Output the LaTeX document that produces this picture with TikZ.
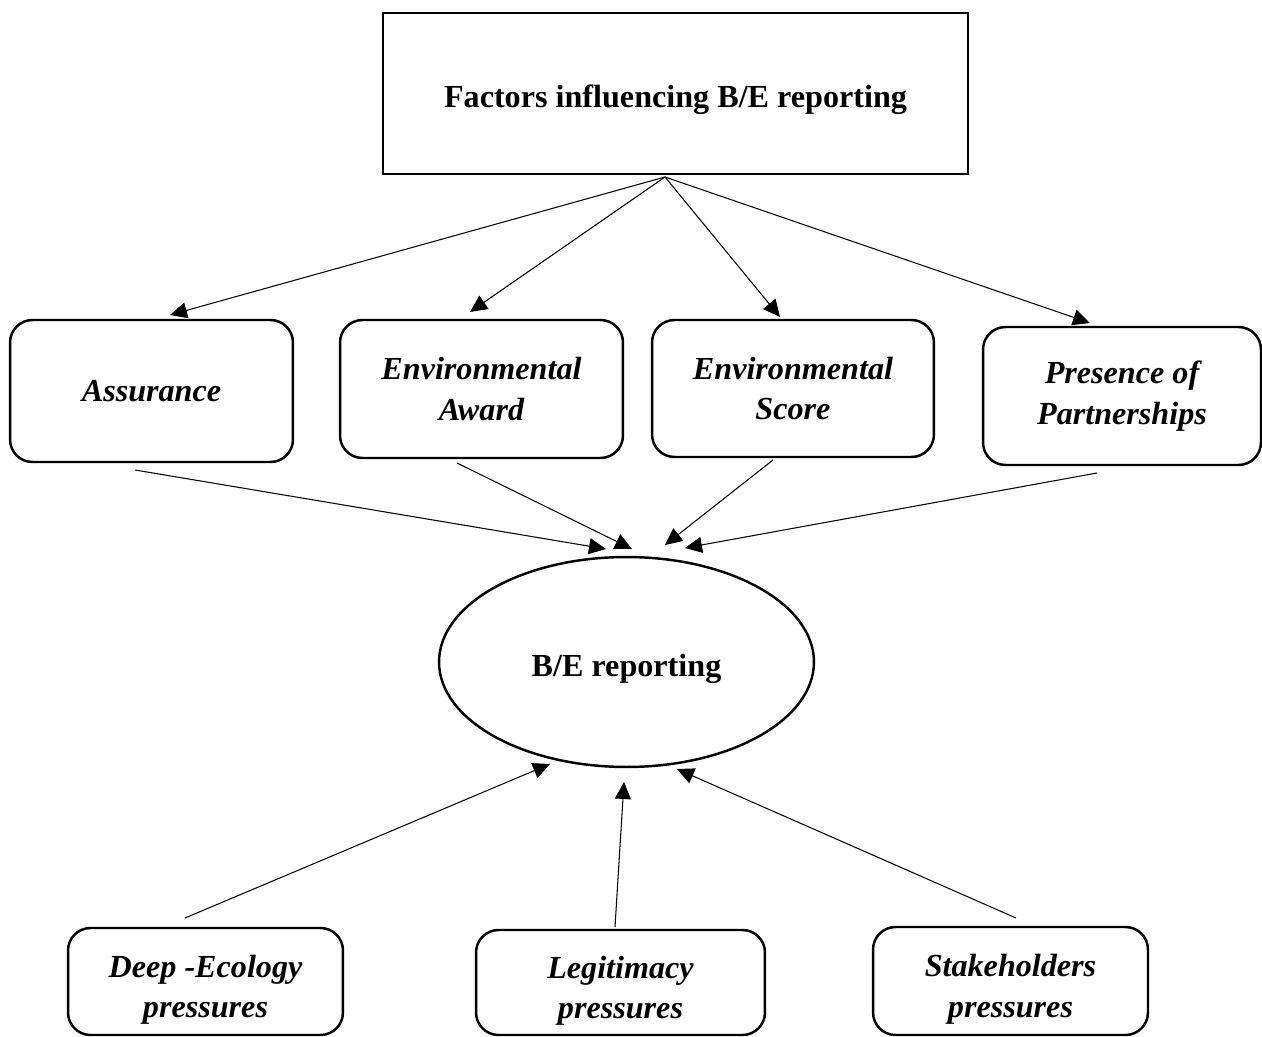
\documentclass[tikz,border=0pt]{standalone}
\usepackage{fontspec}
\setmainfont{Liberation Serif}
\usetikzlibrary{arrows.meta, shapes.geometric}
\begin{document}
\begin{tikzpicture}[x=0.02cm, y=-0.02cm, box/.style={draw, line width=1.4pt, rounded corners=0.45cm, align=center, inner sep=0pt, font=\fontsize{18.3}{23.3}\selectfont\bfseries\itshape}, pbox/.style={box, text height=1.6cm, text depth=0.14cm}, arr/.style={-{Triangle[length=0.34cm, width=0.32cm]}, line width=0.6pt}]
		\useasboundingbox (0,0) rectangle (1262,1037);

		\node[draw, line width=1.4pt, minimum width=11.7cm, minimum height=3.22cm, text height=0.72cm, text depth=0.14cm, font=\fontsize{18.3}{23.3}\selectfont\bfseries] (F) at (675.5,93.5) {Factors influencing B/E reporting};

		\node[box, minimum width=5.66cm, minimum height=2.84cm] (As) at (151.5,391) {Assurance};
		\node[box, minimum width=5.66cm, minimum height=2.76cm] (Aw) at (481.5,389) {Environmental\\Award};
		\node[box, minimum width=5.64cm, minimum height=2.74cm] (Sc) at (793,388.5) {Environmental\\Score};
		\node[box, minimum width=5.56cm, minimum height=2.76cm] (Pa) at (1122,396) {Presence of\\Partnerships};

		\node[ellipse, draw, line width=1.4pt, minimum width=7.5cm, minimum height=4.2cm, text height=0.72cm, text depth=0.14cm, font=\fontsize{18.3}{23.3}\selectfont\bfseries] (R) at (626.5,662) {B/E reporting};

		\node[pbox, minimum width=5.5cm, minimum height=2.14cm] (De) at (205.5,981.5) {Deep -Ecology\\pressures};
		\node[pbox, minimum width=5.78cm, minimum height=2.1cm] (Le) at (620.5,982.5) {Legitimacy\\pressures};
		\node[pbox, minimum width=5.5cm, minimum height=2.16cm] (St) at (1010.5,981) {Stakeholders\\pressures};

		\coordinate (Fo) at (665,177);
		\coordinate (As-in) at (170,315); \coordinate (Aw-in) at (470,312); \coordinate (Sc-in) at (780,317); \coordinate (Pa-in) at (1090,323);
		\coordinate (As-out) at (135,470); \coordinate (Aw-out) at (457,463); \coordinate (Sc-out) at (773,460); \coordinate (Pa-out) at (1097,473);
		\coordinate (R1) at (606,549); \coordinate (R2) at (632,549); \coordinate (R3) at (665,545); \coordinate (R4) at (685,548);
		\coordinate (R5) at (550,764); \coordinate (R6) at (624,782); \coordinate (R7) at (677,769);
		\coordinate (De-out) at (185,918); \coordinate (Le-out) at (615,927); \coordinate (St-out) at (1016,918);

		\draw[arr] (Fo) -- (As-in); \draw[arr] (Fo) -- (Aw-in); \draw[arr] (Fo) -- (Sc-in); \draw[arr] (Fo) -- (Pa-in);
		\draw[arr] (As-out) -- (R1); \draw[arr] (Aw-out) -- (R2); \draw[arr] (Sc-out) -- (R3); \draw[arr] (Pa-out) -- (R4);
		\draw[arr] (De-out) -- (R5); \draw[arr] (Le-out) -- (R6); \draw[arr] (St-out) -- (R7);
	\end{tikzpicture}
\end{document}
